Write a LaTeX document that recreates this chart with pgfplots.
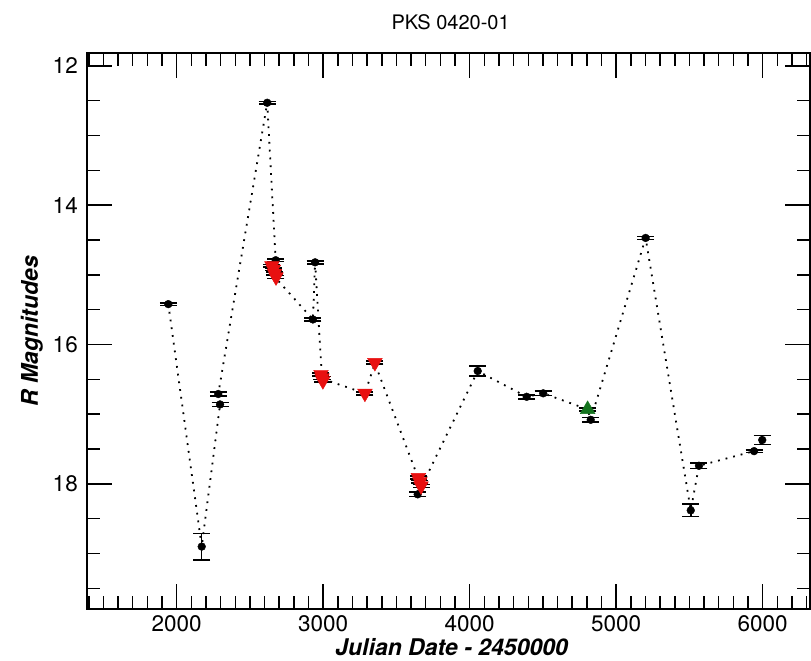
\documentclass[border=0pt]{standalone}
\usepackage{fontspec}
\setmainfont{TeX Gyre Heros}
\usepackage{pgfplots}
\usepackage{pgfplotstable}
\pgfplotsset{compat=1.18}
\definecolor{mred}{RGB}{232,16,16}
\definecolor{mgreen}{RGB}{20,115,30}

\pgfplotstableread{
x y
1943 15.42
2171 18.90
2296 16.86
2284 16.71
2618 12.53
2676 14.79
2678 15.05
2930 15.64
2945 14.82
2992 16.49
3285 16.70
3353 16.27
3660 17.98
3645 18.15
4055 16.38
4389 16.75
4502 16.70
4805 16.93
4826 17.08
5201 14.47
5509 18.38
5565 17.74
5941 17.53
5997 17.37
}\linedata

\pgfplotstableread{
x y e
1943 15.42 0.02
2171 18.90 0.19
2284 16.71 0.03
2296 16.86 0.03
2618 12.53 0.02
2676 14.79 0.02
2930 15.64 0.02
2945 14.82 0.02
3645 18.15 0.03
4055 16.38 0.07
4389 16.75 0.03
4502 16.70 0.03
4826 17.08 0.03
5201 14.47 0.02
5509 18.38 0.09
5565 17.74 0.04
5941 17.53 0.02
5997 17.37 0.065
}\blackdata

\pgfplotstableread{
x y e
2650 14.87 0.02
2660 14.92 0.02
2668 14.98 0.02
2678 15.03 0.02
2985 16.43 0.02
2992 16.48 0.02
2998 16.52 0.02
3285 16.70 0.02
3353 16.26 0.02
3650 17.91 0.02
3660 17.97 0.02
3668 18.03 0.02
}\reddata

\pgfplotstableread{
x y e
4805 16.93 0.02
}\greendata

\begin{document}
\begin{tikzpicture}
\begin{axis}[
  name=ax, at={(0,0)}, anchor=south west,
  scale only axis, width=722.7pt, height=556pt,
  xmin=1390, xmax=6323, ymin=11.82, ymax=19.80, y dir=reverse,
  xtick={2000,3000,4000,5000,6000},
  minor xtick={1400,1500,...,6300},
  ytick={12,14,16,18},
  minor ytick={12,12.5,...,19.5},
  tick align=inside,
  major tick length=25pt, minor tick length=13pt,
  every tick/.style={black, line width=1.5pt},
  axis line style={line width=2pt},
  ticklabel style={font=\fontsize{22.5}{24}\selectfont},
  /pgf/number format/assume math mode=true,
  /pgf/number format/1000 sep={},
  xticklabel style={yshift=-2.5pt},
  yticklabel style={xshift=-6pt},
  clip=false,
]
\addplot[black, line width=1.8pt, dash pattern=on 1.8pt off 6pt] table[x=x,y=y] {\linedata};
\addplot[only marks, mark=*, mark size=3.9pt, black,
  error bars/.cd, y dir=both, y explicit,
  error bar style={line width=1.5pt, black},
  error mark options={rotate=90, mark size=8.5pt, line width=1.6pt, black}]
  table[x=x,y=y,y error=e] {\blackdata};
\addplot[only marks, mark=triangle*, mark size=8.5pt, mred,
  mark options={rotate=180, fill=mred, draw=mred},
  error bars/.cd, y dir=both, y explicit,
  error bar style={line width=1.5pt, black},
  error mark options={rotate=90, mark size=8.5pt, line width=1.6pt, black}]
  table[x=x,y=y,y error=e] {\reddata};
\addplot[only marks, mark=triangle*, mark size=8.5pt, mgreen,
  mark options={fill=mgreen, draw=mgreen},
  error bars/.cd, y dir=both, y explicit,
  error bar style={line width=1.5pt, black},
  error mark options={rotate=90, mark size=8.5pt, line width=1.6pt, black}]
  table[x=x,y=y,y error=e] {\greendata};
\end{axis}
\node[anchor=base, font=\fontsize{20}{22}\selectfont] at ([xshift=2pt,yshift=24pt]ax.north) {PKS 0420-01};
\node[anchor=base, font=\fontsize{23}{25}\selectfont\bfseries\itshape] at ([xshift=3pt,yshift=-46.5pt]ax.south) {Julian Date - 2450000};
\node[anchor=base, rotate=90, font=\fontsize{23}{25}\selectfont\bfseries\itshape] at ([xshift=-49.3pt]ax.west) {R Magnitudes};
\pgfresetboundingbox
\path ([xshift=-87.3pt,yshift=-51.7pt]ax.south west) rectangle ([xshift=1pt,yshift=53.3pt]ax.north east);
\end{tikzpicture}
\end{document}
